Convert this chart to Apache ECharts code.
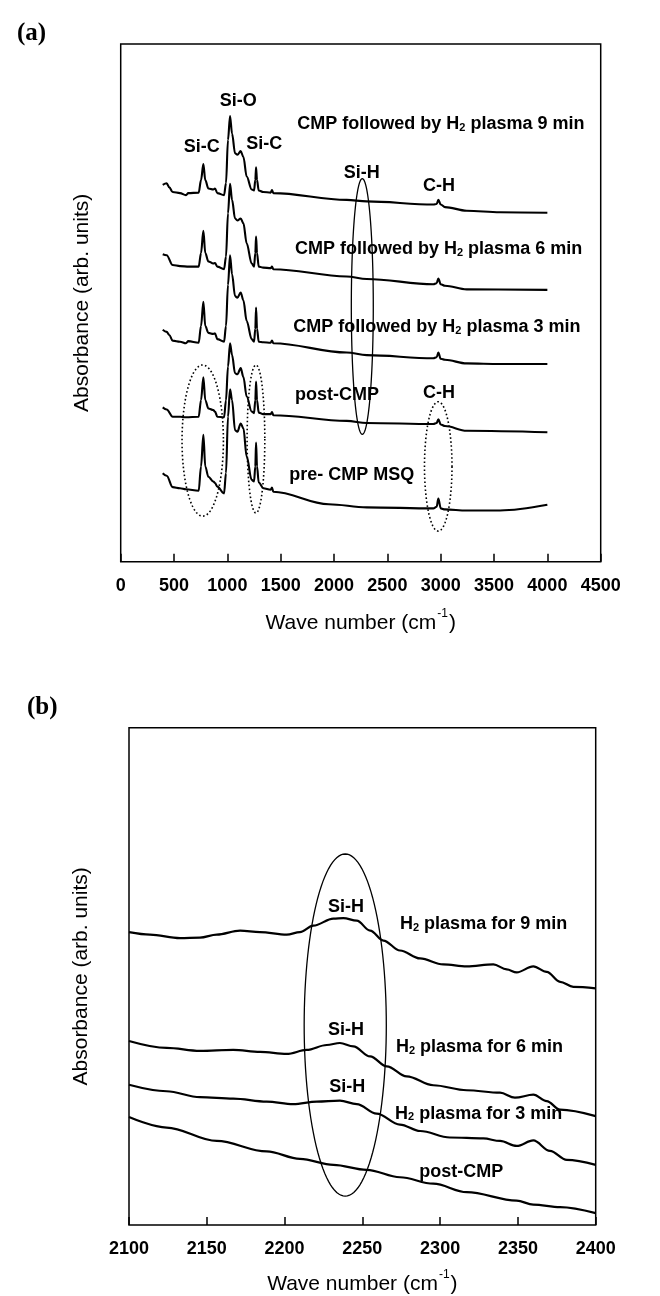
<!DOCTYPE html>
<html>
<head>
<meta charset="utf-8">
<script src="https://cdn.jsdelivr.net/npm/echarts@6/dist/echarts.min.js"></script>
<style>
html,body{margin:0;padding:0;background:#fff;}
#c{width:660px;height:1296px;}
</style>
</head>
<body>
<div id="c"></div>
<script>
// ---------- Data: panel (a), wave number (cm-1) vs absorbance (arb., offset) ----------
const ticksA = [0, 500, 1000, 1500, 2000, 2500, 3000, 3500, 4000, 4500];
const spec9min = [[394,72.8],[431,73.1],[456,72.3],[487,71.4],[556,71.2],[612,70.8],[634,71.2],[731,71.3],[753,73.7],[775,76.8],[793,73.7],[822,72.1],[868,71.9],[884,72.1],[906,71.2],[969,70.8],[987,73.1],[1006,81.5],[1025,86.1],[1044,82.7],[1072,78.9],[1094,78.6],[1125,79.3],[1150,78.2],[1181,74.4],[1228,71.9],[1250,71.7],[1262,73.7],[1269,76.2],[1278,73.7],[1294,71.7],[1337,71.4],[1406,71.3],[1418,71.8],[1431,71.2],[2119,69.9],[2306,69.6],[2931,69.0],[2962,69.1],[2978,69.9],[3000,69.0],[3040,68.5],[3244,67.8],[3556,67.5],[4000,67.4]];
const spec6min = [[394,59.4],[431,59.2],[487,57.3],[556,57.1],[641,57.0],[731,57.0],[753,59.6],[775,63.9],[793,59.6],[822,58.0],[868,57.6],[884,57.7],[906,57.0],[969,56.5],[987,58.9],[1006,67.3],[1025,73.0],[1044,69.9],[1072,66.3],[1094,65.9],[1125,66.3],[1150,65.4],[1181,61.5],[1228,57.6],[1250,57.0],[1262,59.6],[1269,62.8],[1278,59.6],[1294,57.0],[1337,56.8],[1406,56.7],[1418,57.0],[1431,56.5],[2119,55.1],[2306,54.6],[2931,53.6],[2962,53.8],[2978,54.7],[3000,53.6],[3040,53.3],[3244,52.6],[4000,52.5]];
const spec3min = [[394,44.8],[431,44.4],[456,43.8],[487,42.7],[556,42.5],[612,42.2],[634,42.6],[731,42.3],[753,45.5],[775,50.2],[793,45.5],[822,44.2],[868,44.0],[884,44.1],[906,43.0],[969,42.5],[987,45.5],[1006,53.5],[1025,59.2],[1044,55.5],[1072,51.3],[1094,51.0],[1125,52.0],[1150,50.5],[1181,46.5],[1228,43.0],[1250,42.5],[1262,45.0],[1269,49.1],[1278,45.0],[1294,42.5],[1337,42.4],[1406,42.3],[1418,42.7],[1431,42.2],[2119,40.4],[2306,39.9],[2931,39.3],[2962,39.5],[2978,40.4],[3000,39.2],[3040,39.0],[3244,38.3],[3556,38.2],[4000,38.2]];
const specPostCMP = [[394,29.8],[431,29.4],[487,28.0],[556,28.0],[612,27.9],[731,28.0],[753,31.2],[775,35.6],[793,31.2],[822,29.6],[868,29.3],[884,29.0],[906,28.0],[969,27.9],[987,31.2],[1006,37.7],[1025,42.2],[1044,39.9],[1072,36.4],[1094,36.2],[1125,37.4],[1150,35.7],[1181,31.9],[1228,29.0],[1250,28.7],[1262,31.2],[1269,34.8],[1278,31.2],[1294,28.8],[1337,28.5],[1406,28.5],[1418,28.9],[1431,28.3],[2119,27.2],[2306,26.8],[2931,26.6],[2962,26.8],[2978,27.5],[3000,26.5],[3040,26.2],[3244,25.3],[4000,25.0]];
const specPreCMP = [[394,17.1],[431,16.6],[487,14.4],[556,14.2],[612,14.0],[731,13.7],[753,18.4],[775,24.5],[793,18.4],[822,16.4],[868,15.5],[884,15.2],[906,14.5],[969,13.2],[987,17.1],[1006,28.0],[1025,33.3],[1044,31.2],[1072,25.4],[1094,25.1],[1125,26.7],[1150,25.8],[1181,20.3],[1228,15.8],[1250,15.5],[1262,18.4],[1269,23.0],[1278,18.4],[1294,15.3],[1337,14.2],[1406,13.9],[1418,14.3],[1431,13.5],[1950,11.1],[2306,10.5],[2931,10.3],[2962,10.6],[2978,12.2],[3000,10.3],[3040,10.1],[3244,9.9],[3556,9.9],[4000,11.0]];

// annotations of panel (a): [text, wave number, absorbance, anchor]
const notesA = [
  ['Si-O', 1102, 89.4, 'center'],
  ['Si-C', 759, 80.4, 'center'],
  ['Si-C', 1346, 81.0, 'center'],
  ['Si-H', 2259, 75.5, 'center'],
  ['C-H', 2984, 72.9, 'center'],
  ['C-H', 2984, 33.0, 'center'],
  ['CMP followed by H₂ plasma 9 min', 1656, 84.9, 'left'],
  ['CMP followed by H₂ plasma 6 min', 1634, 60.7, 'left'],
  ['CMP followed by H₂ plasma 3 min', 1618, 45.7, 'left'],
  ['post-CMP', 1634, 32.5, 'left'],
  ['pre- CMP MSQ', 1581, 17.1, 'left']
];
// ellipses of panel (a): [center wave number, center absorbance, half width, half height, dotted]
const ellipsesA = [
  [2265, 49.3, 103, 24.7, 0],
  [769, 23.4, 194, 14.6, 1],
  [1268, 23.7, 83, 14.3, 1],
  [2977, 18.4, 129, 12.5, 1]
];

// ---------- Data: panel (b) ----------
const ticksB = [2100, 2150, 2200, 2250, 2300, 2350, 2400];
const zoom9min = [[2100,58.9],[2113.5,58.4],[2132.8,57.7],[2145.6,57.8],[2156.4,58.4],[2171.4,59.2],[2184.2,58.9],[2201.4,58.4],[2209.9,58.9],[2218.5,60.2],[2231.4,61.6],[2237.8,61.7],[2246.4,61.2],[2255,59.2],[2263.5,57.2],[2274.2,55.2],[2287.1,53.6],[2302,52.4],[2317.1,52.0],[2334.2,52.4],[2342.8,51.4],[2349.2,50.8],[2359.9,52.0],[2368.5,50.9],[2377.1,48.9],[2385.6,47.9],[2400,47.6]];
const zoom6min = [[2100,37.0],[2124.2,35.6],[2145.6,35.0],[2167,35.2],[2184.2,34.8],[2201.4,34.4],[2214.2,35.2],[2227.1,36.2],[2235.6,36.6],[2244.2,35.9],[2255,33.9],[2265.7,31.9],[2278.5,29.9],[2295.6,28.1],[2317.1,27.1],[2338.5,26.6],[2348.1,25.6],[2359.9,26.2],[2368.5,24.9],[2377.1,23.2],[2400,21.9]];
const zoom3min = [[2100,28.2],[2124.2,26.9],[2145.6,25.7],[2167,25.4],[2188.5,24.8],[2205.6,24.3],[2220.7,24.8],[2235.6,25.0],[2246.4,24.3],[2259.2,22.4],[2274.2,20.2],[2287.1,18.9],[2306.3,17.6],[2327.8,17.4],[2338.5,16.9],[2349.2,15.9],[2359.9,17.0],[2370.6,14.9],[2381.4,13.1],[2400,12.1]];
const zoomPostCMP = [[2100,21.7],[2124.2,19.6],[2156.4,16.9],[2188.5,14.8],[2209.9,13.3],[2231.4,12.1],[2252.8,11.1],[2274.2,9.6],[2295.6,8.3],[2317.1,6.6],[2349.2,4.9],[2359.9,4.1],[2377.1,3.6],[2400,2.4]];

const notesB = [
  ['Si-H', 2239.5, 64.4, 'center'],
  ['Si-H', 2239.5, 39.7, 'center'],
  ['Si-H', 2240.3, 28.1, 'center'],
  ['H₂ plasma for 9 min', 2274.2, 60.9, 'left'],
  ['H₂ plasma for 6 min', 2271.6, 36.2, 'left'],
  ['H₂ plasma for 3 min', 2271.0, 22.8, 'left'],
  ['post-CMP', 2286.6, 11.1, 'left']
];
const ellipsesB = [
  [2239, 40.2, 26.4, 34.4, 0]
];

// ---------- Chart ----------
const SANS = 'Liberation Sans, Arial, Helvetica, sans-serif';
const SERIF = 'Liberation Serif, Times New Roman, serif';

const richLbl = {
  b: {fontSize: 18, fontWeight: 'bold', fontFamily: SANS, color: '#000', opacity: 1, lineHeight: 22, verticalAlign: 'bottom'},
  s: {fontSize: 11, fontWeight: 'bold', fontFamily: SANS, color: '#000', opacity: 1, lineHeight: 11, padding: [8, 0, 0, 0], verticalAlign: 'bottom'}
};
function richText(t) {
  return t.split('₂').map(p => p ? '{b|' + p + '}' : '').join('{s|2}');
}
function noteSeries(notes, idx) {
  return {
    type: 'scatter', xAxisIndex: idx, yAxisIndex: idx, symbolSize: 0, silent: true, z: 5,
    itemStyle: {opacity: 1, color: '#000'},
    emphasis: {disabled: true},
    data: notes.map(n => ({
      value: [n[1], n[2]],
      label: {
        show: true,
        formatter: richText(n[0]),
        rich: richLbl,
        color: '#000',
        opacity: 1,
        textBorderWidth: 0,
        position: n[3] === 'left' ? 'right' : 'inside',
        distance: 0,
        align: n[3] === 'left' ? 'left' : 'center',
        verticalAlign: 'middle'
      }
    }))
  };
}
function ellipseSeries(list, idx) {
  return {
    type: 'custom', xAxisIndex: idx, yAxisIndex: idx, silent: true, clip: false, z: 4,
    data: list,
    renderItem: function (params, api) {
      const c = api.coord([api.value(0), api.value(1)]);
      const s = api.size([api.value(2), api.value(3)]);
      const pts = [];
      for (let i = 0; i <= 120; i++) {
        const a = i / 120 * Math.PI * 2;
        pts.push([c[0] + s[0] * Math.cos(a), c[1] + s[1] * Math.sin(a)]);
      }
      const dotted = api.value(4) === 1;
      return {
        type: 'polyline',
        shape: {points: pts},
        style: {fill: null, stroke: '#000', lineWidth: dotted ? 1.6 : 1.3, lineDash: dotted ? [1.6, 2.4] : null}
      };
    }
  };
}
function lineSeries(d, idx, w) {
  return {
    type: 'line', xAxisIndex: idx, yAxisIndex: idx, data: d, showSymbol: false, symbol: 'none',
    smooth: 0.35, smoothMonotone: 'x', silent: true, z: 3,
    lineStyle: {color: '#000', width: w}
  };
}
const xName = '{n|Wave number (cm}{p|-1}{n|)}';
const xNameRich = {
  n: {fontSize: 21, fontFamily: SANS, color: '#000', lineHeight: 26, verticalAlign: 'bottom'},
  p: {fontSize: 12, fontFamily: SANS, color: '#000', lineHeight: 12, padding: [0, 1, 9, 1], verticalAlign: 'top'}
};
function xAxisCfg(idx, min, max, interval, gap) {
  return {
    type: 'value', gridIndex: idx, min: min, max: max, interval: interval,
    name: xName, nameLocation: 'middle', nameGap: gap,
    nameTextStyle: {rich: xNameRich},
    axisLine: {show: false},
    axisTick: {show: true, inside: true, length: 8, lineStyle: {color: '#000', width: 1.5}},
    splitLine: {show: false},
    axisLabel: {show: true, showMinLabel: true, showMaxLabel: true, margin: 15, color: '#000', fontSize: 18, fontWeight: 'bold', fontFamily: SANS,
      formatter: function (v) { return String(v); }}
  };
}
function yAxisCfg(idx, gap) {
  return {
    type: 'value', gridIndex: idx, min: 0, max: 100,
    name: 'Absorbance (arb. units)', nameLocation: 'middle', nameGap: gap, nameRotate: 90,
    nameTextStyle: {fontSize: 21, fontFamily: SANS, color: '#000'},
    axisLine: {show: false}, axisTick: {show: false}, axisLabel: {show: false}, splitLine: {show: false}
  };
}

const chart = echarts.init(document.getElementById('c'), null, {renderer: 'canvas'});
chart.setOption({
  animation: false,
  backgroundColor: '#fff',
  title: [
    {text: '(a)', left: 12, top: 16, textStyle: {fontFamily: SERIF, fontWeight: 'bold', fontSize: 25, color: '#000'}},
    {text: '(b)', left: 22, top: 690, textStyle: {fontFamily: SERIF, fontWeight: 'bold', fontSize: 25, color: '#000'}}
  ],
  grid: [
    {left: 120.7, top: 44, width: 480, height: 517.7, show: true, borderColor: '#000', borderWidth: 1.5, backgroundColor: 'transparent', containLabel: false},
    {left: 129, top: 727.7, width: 466.7, height: 500.3, show: true, borderColor: '#000', borderWidth: 1.5, backgroundColor: 'transparent', containLabel: false}
  ],
  xAxis: [xAxisCfg(0, ticksA[0], ticksA[ticksA.length - 1], ticksA[1] - ticksA[0], 46), xAxisCfg(1, ticksB[0], ticksB[ticksB.length - 1], ticksB[1] - ticksB[0], 44)],
  yAxis: [yAxisCfg(0, 28), yAxisCfg(1, 37)],
  series: [
    lineSeries(spec9min, 0, 2.1),
    lineSeries(spec6min, 0, 2.1),
    lineSeries(spec3min, 0, 2.1),
    lineSeries(specPostCMP, 0, 2.1),
    lineSeries(specPreCMP, 0, 2.1),
    ellipseSeries(ellipsesA, 0),
    noteSeries(notesA, 0),
    lineSeries(zoom9min, 1, 2.2),
    lineSeries(zoom6min, 1, 2.2),
    lineSeries(zoom3min, 1, 2.2),
    lineSeries(zoomPostCMP, 1, 2.2),
    ellipseSeries(ellipsesB, 1),
    noteSeries(notesB, 1)
  ]
});
</script>
</body>
</html>
